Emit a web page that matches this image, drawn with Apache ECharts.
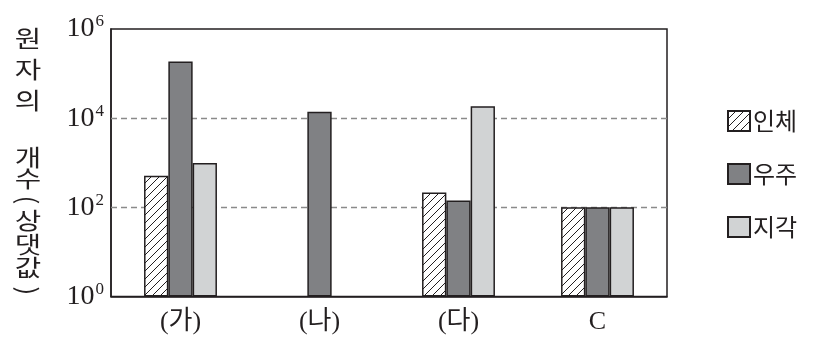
<!DOCTYPE html>
<html><head><meta charset="utf-8">
<script src="https://cdn.jsdelivr.net/npm/echarts@6/dist/echarts.min.js"></script>
<style>html,body{margin:0;padding:0;background:#fff}#c{width:817px;height:352px}</style>
</head><body><div id="c"></div>
<script>
const categories = ['(가)', '(나)', '(다)', 'C'];
const seriesNames = ['인체', '우주', '지각'];
const humanBody = [510, null, 215, 100];
const universe = [186000, 14000, 142, 100];
const crust = [990, null, 18500, 100];
const yTickExponents = [0, 2, 4, 6];
const gridValues = [100, 10000];
const yAxisTitleChars = ['원', '자', '의', '개', '수', '(', '상', '댓', '값', ')'];

const INK = '#231f20';
function hatch() {
  const s = 8, c = document.createElement('canvas');
  c.width = s; c.height = s;
  const g = c.getContext('2d');
  g.fillStyle = '#fff'; g.fillRect(0, 0, s, s);
  g.strokeStyle = INK; g.lineWidth = 1;
  g.beginPath();
  g.moveTo(0, s); g.lineTo(s, 0);
  g.moveTo(-2, 2); g.lineTo(2, -2);
  g.moveTo(s - 2, s + 2); g.lineTo(s + 2, s - 2);
  g.stroke();
  return { image: c, repeat: 'repeat' };
}
const titleY = [38, 69, 100, 157, 178, 200, 220, 244, 267, 291];
const chart = echarts.init(document.getElementById('c'));
const serif = "'Liberation Serif','Noto Sans CJK KR'";
const colors = [hatch(), '#808184', '#d1d3d4'];
const dataSets = [humanBody, universe, crust];
chart.setOption({
  animation: false,
  grid: { left: 111, right: 150, top: 29, bottom: 55.5, show: true, borderColor: INK, borderWidth: 1.5, backgroundColor: 'transparent' },
  legend: {
    orient: 'vertical', left: 722, top: 104, itemWidth: 22, itemHeight: 20, itemGap: 29,
    icon: 'rect',
    textStyle: { fontSize: 24, color: INK, fontFamily: 'Noto Sans CJK KR', padding: [0, 0, 0, -2] },
    data: seriesNames
  },
  graphic: yAxisTitleChars.map((ch, i) => {
    const paren = ch === '(' || ch === ')';
    return {
      type: 'text', x: 28, y: titleY[i],
      scaleX: paren ? 1 : 1.25,
      rotation: paren ? -Math.PI / 2 : 0,
      style: { text: ch, fontSize: paren ? 26 : 23, fontFamily: 'Noto Sans CJK KR', fill: INK, align: 'center', verticalAlign: 'middle' }
    };
  }),
  xAxis: {
    type: 'category', data: categories,
    axisLine: { lineStyle: { color: INK, width: 1.5 } },
    axisTick: { inside: true, length: 10, lineStyle: { color: INK, width: 1.5 } },
    axisLabel: { fontSize: 26, color: INK, fontFamily: serif, margin: 13 }
  },
  yAxis: {
    type: 'log', logBase: 10, min: 1, max: 1e6,
    axisLine: { show: true, lineStyle: { color: INK, width: 1.5 } },
    axisTick: { show: false },
    splitLine: { show: false },
    axisLabel: {
      margin: 7,
      formatter: v => {
        const e = Math.round(Math.log10(v));
        return yTickExponents.includes(e) ? '{b|10}{s|' + e + '}' : '';
      },
      rich: {
        b: { fontSize: 28, fontFamily: serif, color: INK },
        s: { fontSize: 17, fontFamily: serif, color: INK, padding: [0, 0, 14, 1] }
      }
    }
  },
  series: seriesNames.map((n, i) => ({
    name: n, type: 'bar', data: dataSets[i], barWidth: 24.3, barGap: '0%',
    itemStyle: { color: colors[i], borderColor: INK, borderWidth: 1.5 },
    markLine: i === 0 ? {
      silent: true, symbol: 'none', z: 1,
      label: { show: false },
      lineStyle: { color: '#8a8a8a', type: [6, 4], width: 1.3 },
      data: gridValues.map(v => ({ yAxis: v }))
    } : undefined
  }))
});
</script></body></html>
